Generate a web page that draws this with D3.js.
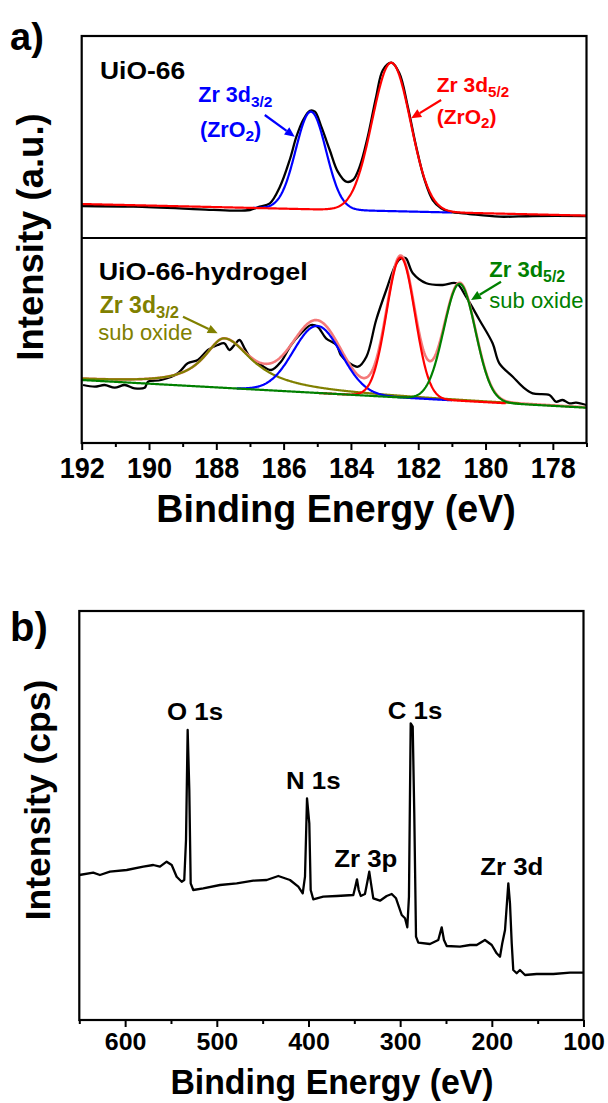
<!DOCTYPE html>
<html>
<head>
<meta charset="utf-8">
<script src="https://cdn.jsdelivr.net/npm/d3@7"></script>
<style>
  html, body { margin: 0; padding: 0; background: #fff; }
  svg { display: block; font-family: Arial, "Liberation Sans", Helvetica, sans-serif; }
</style>
</head>
<body>
<svg id="chart" width="608" height="1103"></svg>
<script>
'use strict';

// ── Panel a: Zr 3d core level (binding energy eV, intensity a.u.) ─────────
const zrTicks = [192, 190, 188, 186, 184, 182, 180, 178];
const zrMinor = [191, 189, 187, 185, 183, 181, 179, 177];

// measured UiO-66 spectrum [eV, a.u.]
const uio66 = [
  [192.0, 32], [190.47, 31.3], [188.49, 28.7], [187.5, 27.3], [187.0, 28], [186.71, 31.3],
  [186.41, 34.7], [186.11, 51.3], [185.82, 78], [185.62, 101.3], [185.42, 118], [185.22, 127.3],
  [185.07, 126.3], [184.88, 111.3], [184.63, 88], [184.39, 66.3], [184.14, 56.3], [183.94, 58],
  [183.74, 71.3], [183.5, 101.3], [183.25, 141.3], [183.05, 168], [182.8, 175.3], [182.56, 164.7],
  [182.31, 131.3], [182.06, 91.3], [181.81, 58], [181.57, 38], [181.32, 29.7], [181.07, 26.3],
  [180.48, 24], [179.59, 21.3], [178.6, 22], [177.0, 22]
];
// linear background of the UiO-66 fit [eV, a.u.]
const uio66Background = [[192, 34], [177, 22.4]];
// fitted components: centre (eV), height above background, gaussian sigma (eV), fitted range
const uio66Fit = [
  { id: 'zrO2_32', center: 185.19, height: 97.6,  sigma: 0.45, from: 186.9, to: 181.0 },
  { id: 'zrO2_52', center: 182.80, height: 148.4, sigma: 0.57, from: 192.0, to: 177.0 }
];

// measured UiO-66-hydrogel spectrum [eV, a.u.]
const hydrogel = [
  [191.96, 58], [191.61, 56.3], [191.32, 58], [191.02, 55.3], [190.72, 58], [190.43, 54.7],
  [190.13, 55.3], [190.03, 61.3], [189.64, 63], [189.14, 69.7], [188.85, 79.7], [188.55, 83],
  [188.25, 93], [187.96, 98], [187.76, 99.7], [187.61, 93], [187.46, 98], [187.31, 103],
  [187.16, 94.7], [186.97, 84.7], [186.67, 78], [186.37, 73], [186.08, 81.3], [185.78, 98],
  [185.48, 109.7], [185.19, 118], [184.99, 116.3], [184.74, 104.7], [184.43, 98], [184.30, 88],
  [184.04, 79.7], [183.79, 76.3], [183.54, 86.3], [183.25, 123], [182.95, 153], [182.65, 179.7],
  [182.50, 184.7], [182.37, 184.7], [182.16, 169.7], [181.76, 159.7], [181.27, 158], [180.87, 159.7],
  [180.58, 146.3], [180.18, 123], [179.79, 99.7], [179.59, 79.7], [179.19, 66.3], [178.90, 56.3],
  [178.60, 49.7], [178.10, 48], [177.91, 41.3], [177.71, 43], [177.51, 39.7], [177.31, 40.3],
  [177.01, 38]
];
const hydrogelBackground = [[192, 63], [177, 35.3]];
// sub oxide 3d3/2 is an asymmetric lorentzian (half widths on the high / low energy side)
const hydrogelFit = [
  { id: 'sub_32',  center: 187.76, height: 49.5, hwhmHigh: 0.75, hwhmLow: 1.0, from: 192.0, to: 179.0 },
  { id: 'zrO2_32', center: 185.00, height: 67,   sigma: 0.71, from: 187.4, to: 181.0 },
  { id: 'zrO2_52', center: 182.52, height: 140,  sigma: 0.42, from: 185.0, to: 179.4 },
  { id: 'sub_52',  center: 180.77, height: 117,  sigma: 0.47, from: 192.0, to: 177.0 }
];

// ── Panel b: survey spectrum (binding energy eV, intensity cps) ─────────────
const surveyTicks = [600, 500, 400, 300, 200, 100];
const surveyMinor = [650, 550, 450, 350, 250, 150];
const survey = [
  [650, 145], [634.8, 147.3], [627.5, 145], [616.6, 148.3], [598.3, 150], [580.2, 153.3],
  [569.3, 155], [562.0, 153.3], [554.7, 158.3], [549.2, 155], [543.8, 143.3], [538.3, 138.3],
  [535.5, 140], [533.6, 180], [531.8, 290], [530.0, 230], [528.5, 136.7], [525.7, 130],
  [514.8, 131.7], [496.5, 135], [478.3, 136.7], [460.2, 139.3], [445.6, 140], [432.9, 144],
  [420.2, 140], [411.1, 133.3], [406.3, 126.7], [403.8, 143.3], [401.6, 221.7], [399.1, 196.7],
  [397.6, 130], [394.8, 120.7], [383.9, 123.3], [369.2, 124], [351.1, 125], [348.9, 133.3],
  [347.1, 140.7], [345.2, 130], [343.0, 124], [338.4, 126], [335.4, 140], [333.7, 148.3],
  [331.8, 136.7], [329.3, 121.7], [322.0, 119.3], [314.7, 124], [309.2, 126], [304.5, 121.7],
  [298.3, 105], [294.7, 101.7], [292.2, 92.7], [290.4, 123.3], [288.5, 296.7], [286.3, 293.3],
  [284.6, 206.7], [282.7, 83.3], [280.2, 77.3], [267.5, 76], [258.4, 80], [254.7, 92.7],
  [252.2, 80], [249.2, 74], [234.7, 73.3], [223.8, 75], [216.5, 75], [207.5, 80], [200.1, 75],
  [194.7, 66.7], [191.1, 63.3], [188.6, 76.7], [185.6, 90], [182.0, 136.7], [180.2, 116.7],
  [178.3, 76.7], [176.6, 50], [172.9, 46.7], [169.3, 50], [163.8, 45], [151.1, 46],
  [132.9, 46], [114.7, 47.3], [100, 47.3]
];

// ── Styles ──────────────────────────────────────────────────────────────────
const FIT_COLORS = { zrO2_32: '#0000ff', zrO2_52: '#ff0000', sub_32: '#808000', sub_52: '#008000' };
const ENVELOPE_COLOR = '#f47a7a';

const svg = d3.select('#chart');

// ── Helpers ─────────────────────────────────────────────────────────────────
function baseAt(bg, e) {
  const t = (e - bg[0][0]) / (bg[1][0] - bg[0][0]);
  return bg[0][1] + t * (bg[1][1] - bg[0][1]);
}
function peakAt(p, e) {
  const d = e - p.center;
  if (p.hwhmHigh) {
    const w = d > 0 ? p.hwhmHigh : p.hwhmLow;
    return p.height / (1 + (d / w) * (d / w));
  }
  return p.height * Math.exp(-(d * d) / (2 * p.sigma * p.sigma));
}
function energies(from, to) {
  const n = Math.round((from - to) / 0.02);
  return d3.range(n + 1).map(i => from - i * (from - to) / n);
}

// text with optional horizontal stretch and subscripts; parts = [[text, isSub], ...]
function label(parent, x, y, size, color, parts, opts = {}) {
  const t = parent.append('text')
    .attr('transform', `translate(${x},${y}) scale(${opts.sx || 1},1)`)
    .attr('font-size', size)
    .attr('font-weight', opts.weight || 'bold')
    .attr('fill', color)
    .attr('text-anchor', opts.anchor || 'start');
  const subDy = opts.subDy || 5;
  let down = false;
  parts.forEach(([txt, sub]) => {
    const ts = t.append('tspan').text(txt);
    if (sub) ts.attr('font-size', size * 0.72);
    if (sub && !down) { ts.attr('dy', subDy); down = true; }
    else if (!sub && down) { ts.attr('dy', -subDy); down = false; }
  });
  return t;
}

function arrow(parent, x1, y1, x2, y2, color) {
  const ang = Math.atan2(y2 - y1, x2 - x1);
  const L = 10, Wd = 4.5;
  const bx = x2 - L * Math.cos(ang), by = y2 - L * Math.sin(ang);
  parent.append('line')
    .attr('x1', x1).attr('y1', y1).attr('x2', bx).attr('y2', by)
    .attr('stroke', color).attr('stroke-width', 2.2);
  const px = -Math.sin(ang) * Wd, py = Math.cos(ang) * Wd;
  parent.append('path')
    .attr('d', `M${x2},${y2}L${bx + px},${by + py}L${bx - px},${by - py}Z`)
    .attr('fill', color);
}

function styleAxis(g, size, sx, labelY) {
  g.select('.domain').remove();
  g.selectAll('.tick line').attr('stroke', '#000').attr('stroke-width', 2);
  g.selectAll('.tick text')
    .attr('font-size', size).attr('font-weight', 'bold').attr('fill', '#000')
    .attr('font-family', 'Arial, "Liberation Sans", sans-serif')
    .attr('y', labelY).attr('dy', 0)
    .attr('transform', `scale(${sx},1)`);
}

// ── Panel a layout ──────────────────────────────────────────────────────────
const A = { left: 81.7, right: 586.5, top: 36, mid: 238, bottom: 443 };
const xA = d3.scaleLinear().domain([192, 177]).range([A.left, A.right]);
const yTop = d3.scaleLinear().domain([0, 202]).range([A.mid, A.top]);
const yBot = d3.scaleLinear().domain([0, 205]).range([A.bottom, A.mid]);

const gA = svg.append('g');

function drawFit(g, y, fit, bg, withEnvelope) {
  const line = d3.line().x(d => xA(d[0])).y(d => y(d[1]));
  if (withEnvelope) {
    const env = energies(192, 177).map(e => [e, baseAt(bg, e) + d3.sum(fit, p => peakAt(p, e))]);
    g.append('path').attr('d', line(env)).attr('fill', 'none')
      .attr('stroke', ENVELOPE_COLOR).attr('stroke-width', 2.6);
  }
  fit.forEach(p => {
    const pts = energies(p.from, p.to).map(e => [e, baseAt(bg, e) + peakAt(p, e)]);
    g.append('path').attr('d', line(pts)).attr('fill', 'none')
      .attr('stroke', FIT_COLORS[p.id]).attr('stroke-width', 2.2);
  });
}

// top: UiO-66
const dataLineTop = d3.line().x(d => xA(d[0])).y(d => yTop(d[1])).curve(d3.curveCatmullRom.alpha(0.5));
gA.append('path').attr('d', dataLineTop(uio66)).attr('fill', 'none')
  .attr('stroke', '#000').attr('stroke-width', 2.3);
drawFit(gA, yTop, uio66Fit, uio66Background, false);

// bottom: UiO-66-hydrogel
const dataLineBot = d3.line().x(d => xA(d[0])).y(d => yBot(d[1])).curve(d3.curveCatmullRom.alpha(0.5));
gA.append('path').attr('d', dataLineBot(hydrogel)).attr('fill', 'none')
  .attr('stroke', '#000').attr('stroke-width', 2.3);
drawFit(gA, yBot, hydrogelFit, hydrogelBackground, true);

// frame + divider
gA.append('rect')
  .attr('x', A.left).attr('y', A.top)
  .attr('width', A.right - A.left).attr('height', A.bottom - A.top)
  .attr('fill', 'none').attr('stroke', '#000').attr('stroke-width', 2.2);
gA.append('line')
  .attr('x1', A.left).attr('x2', A.right).attr('y1', A.mid).attr('y2', A.mid)
  .attr('stroke', '#000').attr('stroke-width', 2.2);

// axis
gA.append('g').attr('transform', `translate(0,${A.bottom})`)
  .call(d3.axisBottom(xA).tickValues(zrMinor).tickSize(4).tickSizeOuter(0).tickFormat(''))
  .call(g => styleAxis(g, 30, 0.9, 35));
gA.append('g').attr('transform', `translate(0,${A.bottom})`)
  .call(d3.axisBottom(xA).tickValues(zrTicks).tickSize(7).tickSizeOuter(0).tickFormat(d3.format('d')))
  .call(g => styleAxis(g, 30, 0.9, 35));

label(gA, 336, 522, 38, '#000', [['Binding Energy (eV)']], { anchor: 'middle', sx: 0.99 });
gA.append('text')
  .attr('transform', 'translate(43,237) rotate(-90)')
  .attr('text-anchor', 'middle').attr('font-size', 36.5).attr('font-weight', 'bold')
  .text('Intensity (a.u.)');
label(gA, 10, 50, 38, '#000', [['a)']]);

// annotations, top
label(gA, 100, 78.5, 24, '#000', [['UiO-66']], { sx: 1.1 });
label(gA, 198.3, 101.7, 21.5, FIT_COLORS.zrO2_32, [['Zr 3d'], ['3/2', true]]);
label(gA, 200, 136.7, 21.5, FIT_COLORS.zrO2_32, [['(ZrO'], ['2', true], [')']], { subDy: 4 });
arrow(gA, xA(186.56), yTop(123), xA(185.67), yTop(101.3), FIT_COLORS.zrO2_32);
label(gA, 436.7, 91.7, 21, FIT_COLORS.zrO2_52, [['Zr 3d'], ['5/2', true]]);
label(gA, 436.7, 124, 21, FIT_COLORS.zrO2_52, [['(ZrO'], ['2', true], [')']], { subDy: 4 });
arrow(gA, xA(181.32), yTop(138), xA(182.21), yTop(119.7), FIT_COLORS.zrO2_52);

// annotations, bottom
label(gA, 98.7, 280, 24, '#000', [['UiO-66-hydrogel']], { sx: 1.12 });
label(gA, 99.7, 313, 23, FIT_COLORS.sub_32, [['Zr 3d'], ['3/2', true]]);
label(gA, 98.3, 340, 22, FIT_COLORS.sub_32, [['sub oxide']], { weight: 'normal' });
arrow(gA, xA(188.99), yBot(126.3), xA(187.96), yBot(109.7), FIT_COLORS.sub_32);
label(gA, 489.3, 276.7, 22, FIT_COLORS.sub_52, [['Zr 3d'], ['5/2', true]]);
label(gA, 489.3, 308.3, 22, FIT_COLORS.sub_52, [['sub oxide']], { weight: 'normal' });
arrow(gA, xA(179.54), yBot(161.3), xA(180.43), yBot(143), FIT_COLORS.sub_52);

// ── Panel b layout ──────────────────────────────────────────────────────────
const B = { left: 79.3, right: 583.5, top: 611, bottom: 1020 };
const xB = d3.scaleLinear().domain([650, 100]).range([B.left, B.right]);
const yB = d3.scaleLinear().domain([0, 409]).range([B.bottom, B.top]);

const gB = svg.append('g');
gB.append('path')
  .attr('d', d3.line().x(d => xB(d[0])).y(d => yB(d[1]))(survey))
  .attr('fill', 'none').attr('stroke', '#000').attr('stroke-width', 2.3)
  .attr('stroke-linejoin', 'round');

gB.append('rect')
  .attr('x', B.left).attr('y', B.top)
  .attr('width', B.right - B.left).attr('height', B.bottom - B.top)
  .attr('fill', 'none').attr('stroke', '#000').attr('stroke-width', 2.2);

gB.append('g').attr('transform', `translate(0,${B.bottom})`)
  .call(d3.axisBottom(xB).tickValues(surveyMinor).tickSize(4).tickSizeOuter(0).tickFormat(''))
  .call(g => styleAxis(g, 24, 1.04, 30));
gB.append('g').attr('transform', `translate(0,${B.bottom})`)
  .call(d3.axisBottom(xB).tickValues(surveyTicks).tickSize(7).tickSizeOuter(0).tickFormat(d3.format('d')))
  .call(g => styleAxis(g, 24, 1.04, 30));

label(gB, 332, 1094, 36, '#000', [['Binding Energy (eV)']], { anchor: 'middle', sx: 0.94 });
gB.append('text')
  .attr('transform', 'translate(50,800) rotate(-90)')
  .attr('text-anchor', 'middle').attr('font-size', 35.5).attr('font-weight', 'bold')
  .text('Intensity (cps)');
label(gB, 10, 641, 40, '#000', [['b)']]);

const SURVEY_LABEL = { size: 23.5, sx: 1.1 };
[
  ['O 1s', 195, 720], ['N 1s', 313.3, 789], ['C 1s', 415, 719],
  ['Zr 3p', 365.8, 866.7], ['Zr 3d', 511.7, 875]
].forEach(([t, x, y]) => label(gB, x, y, SURVEY_LABEL.size, '#000', [[t]], { anchor: 'middle', sx: SURVEY_LABEL.sx }));
</script>
</body>
</html>
